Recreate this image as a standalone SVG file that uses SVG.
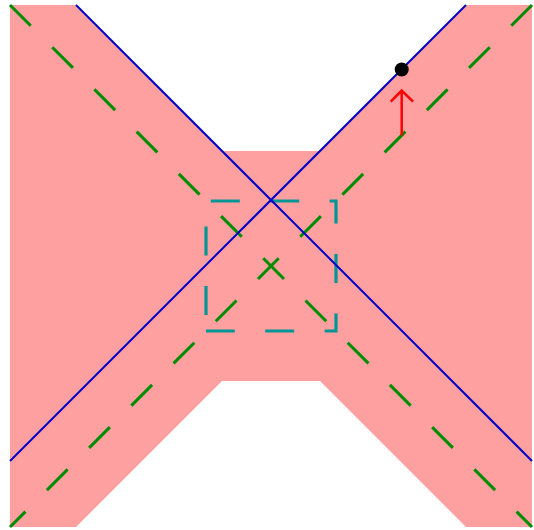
<svg xmlns="http://www.w3.org/2000/svg" width="534" height="530" viewBox="0 0 534 530">
<defs>
<style>
.region{fill:#ffa0a0;stroke:none}
.gdash{stroke:#008c00;stroke-width:3;fill:none;stroke-dasharray:29.3 30.4}
.blue{stroke:#0000c8;stroke-width:2;fill:none}
.box{stroke:#009696;stroke-width:3.2;fill:none;stroke-dasharray:29 30.4;stroke-dashoffset:43.4}
.arrow{stroke:#ff0000;stroke-width:2.5;fill:none}
</style>
</defs>
<rect width="534" height="530" fill="#ffffff"/>
<g id="region">
<polygon class="region" points="10,5 76,5 222,151 320,151 466,5 532,5 532,527 466,527 320,381 222,381 76,527 10,527"/>
</g>
<g id="box">
<path class="box" d="M206,331 V201 H336 V331 Z"/>
</g>
<g id="connectors">
<line class="gdash" x1="10" y1="5" x2="532" y2="527"/>
<line class="gdash" x1="532" y1="5" x2="10" y2="527"/>
<line class="blue" x1="76" y1="5" x2="532" y2="461"/>
<line class="blue" x1="466" y1="5" x2="10" y2="461"/>
</g>
<g id="arrow">
<path class="arrow" d="M401.7,135.5 V90.5 M390.7,101.7 L401.7,90.5 L413,101.7"/>
</g>
<g id="point">
<circle cx="401.7" cy="69.5" r="7" fill="#000000"/>
</g>
</svg>
